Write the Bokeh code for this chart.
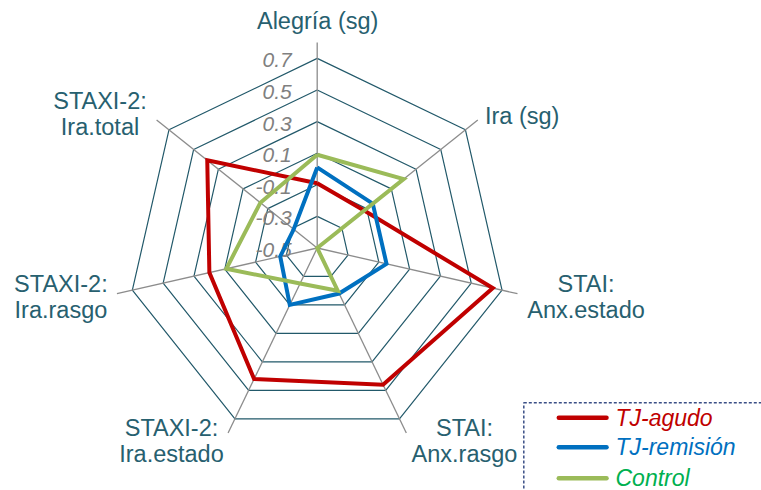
import math
from bokeh.plotting import figure
from bokeh.models import Range1d
from bokeh.core.properties import value
from bokeh.embed import file_html
from bokeh.resources import INLINE

# ---------------- data ----------------
categories = ["Alegría (sg)", "Ira (sg)", "STAI:\nAnx.estado", "STAI:\nAnx.rasgo",
              "STAXI-2:\nIra.estado", "STAXI-2:\nIra.rasgo", "STAXI-2:\nIra.total"]
tj_agudo = [-0.09, -0.12, 0.64, 0.46, 0.42, 0.20, 0.39]
tj_remision = [0.01, -0.05, -0.05, -0.18, -0.10, -0.26, -0.31]
control = [0.09, 0.20, -0.50, -0.20, -0.25, 0.09, -0.04]
series_names = ["TJ-agudo", "TJ-remisión", "Control"]
tick_values = [-0.5, -0.3, -0.1, 0.1, 0.3, 0.5, 0.7]
tick_labels = ["-0.5", "-0.3", "-0.1", "0.1", "0.3", "0.5", "0.7"]

# ---------------- layout / style ----------------
W, H = 761, 490
CX, CY = 316.7, 247.5          # centre of radar in page pixels
VMIN, VMAX = -0.5, 0.7
R = 189.6                      # radius of outer ring in pixels
SPOKE_V = 0.8                  # spokes extend slightly beyond the outer ring
N = len(categories)
TS = 8                         # upward correction for text placement

SERIES_COLORS = ["#C00000", "#0070C0", "#9BBB59"]
LEGEND_TEXT_COLORS = ["#C00000", "#0070C0", "#00B050"]
TEXT_COLOR = "#27606F"
RING_COLOR = "#22596A"
SPOKE_COLOR = "#8C8C8C"
FONT = "Liberation Sans"

def radius(v):
    v = max(v, VMIN)
    return (v - VMIN) / (VMAX - VMIN) * R

def polar(v, k):
    th = 2 * math.pi * k / N
    r = radius(v)
    return r * math.sin(th), r * math.cos(th)

p = figure(width=W, height=H,
           x_range=Range1d(-CX, W - CX), y_range=Range1d(-(H - CY), CY),
           output_backend="svg", toolbar_location=None, min_border=0,
           x_axis_type=None, y_axis_type=None)
p.grid.visible = False
p.outline_line_color = None
p.background_fill_color = "white"
p.border_fill_color = "white"

# rings
for tv in tick_values[1:]:
    xs, ys = [], []
    for k in range(N + 1):
        x, y = polar(tv, k % N)
        xs.append(x); ys.append(y)
    p.line(xs, ys, line_color=RING_COLOR, line_width=1.2)

# spokes
for k in range(N):
    x, y = polar(SPOKE_V, k)
    p.line([0, x], [0, y], line_color=SPOKE_COLOR, line_width=1.3)

# tick labels (along the top spoke, left of it)
tx = [-25.5] * len(tick_values)
ty = [radius(tv) - 10 + TS for tv in tick_values]
p.text(x=tx, y=ty, text=tick_labels, text_font=value(FONT), text_font_size="21px",
       text_font_style="italic", text_color="#808080", text_align="right",
       text_baseline="alphabetic")

# series
for vals, col in zip([tj_agudo, tj_remision, control], SERIES_COLORS):
    xs, ys = [], []
    for k in range(N + 1):
        x, y = polar(vals[k % N], k % N)
        xs.append(x); ys.append(y)
    p.line(xs, ys, line_color=col, line_width=4, line_join="miter")

# category labels: first-line baseline positions (page px, relative to centre)
label_pos = [(0.5, -219.2), (205.0, -124.2), (268.8, 44.2), (147.3, 187.5),
             (-145.7, 187.5), (-256.3, 44.2), (-217.2, -139.2)]
LINE_GAP = 26
lx, ly, lt = [], [], []
for cat, (dx, dy) in zip(categories, label_pos):
    for i, line in enumerate(cat.split("\n")):
        lx.append(dx)
        ly.append(-(dy + i * LINE_GAP) + TS)
        lt.append(line)
p.text(x=lx, y=ly, text=lt, text_font=value(FONT), text_font_size="23.5px",
       text_color=TEXT_COLOR, text_align="center", text_baseline="alphabetic")

# legend (manual, dashed box)
BX0, BY0 = 523.3, 402.3
p.quad(left=[BX0 - CX], right=[W - CX + 20], top=[CY - BY0], bottom=[-(H - CY) - 20],
       fill_color=None, line_color="#3A4F86", line_width=1.5, line_dash="3 2")
leg_line_y = [417.3, 446.7, 477.7]
for name, col, tcol, yy in zip(series_names, SERIES_COLORS, LEGEND_TEXT_COLORS, leg_line_y):
    p.line([558.3 - CX, 606 - CX], [CY - yy, CY - yy], line_color=col, line_width=4.5,
           line_cap="round")
    p.text(x=[615 - CX], y=[CY - yy - 8 + TS], text=[name], text_font=value(FONT),
           text_font_size="23px", text_font_style="italic", text_color=tcol,
           text_align="left", text_baseline="alphabetic")

open("out.html", "w").write(file_html(p, INLINE))
